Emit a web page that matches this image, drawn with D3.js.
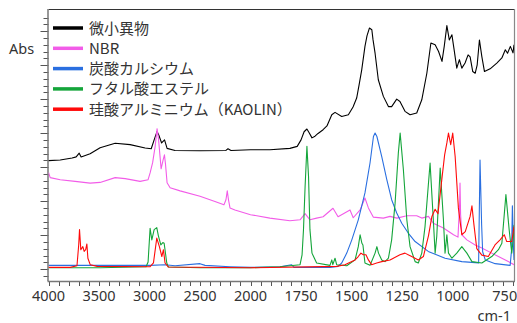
<!DOCTYPE html>
<html>
<head>
<meta charset="utf-8">
<script src="https://cdn.jsdelivr.net/npm/d3@7"></script>
<style>
  body { margin: 0; background: #fff; }
  text { font-family: "Noto Sans CJK JP", "Noto Sans", sans-serif; }
  text.latin { font-family: "Noto Sans", sans-serif; }
</style>
</head>
<body>
<svg id="chart" width="517" height="323"></svg>
<script>
// series names (legend order)
const seriesNames = ['微小異物', 'NBR', '炭酸カルシウム', 'フタル酸エステル', '珪酸アルミニウム（KAOLIN）'];
const seriesColors = ['#000000', '#f25ce8', '#2a6fe0', '#14a53a', '#ff0a0a'];

// x tick labels (cm-1)
const xTickLabels = [4000, 3500, 3000, 2500, 2000, 1750, 1500, 1250, 1000, 750];

// 微小異物
const blackWn = [4000, 3884, 3766, 3726, 3696, 3677, 3588, 3489, 3340, 3192, 3043, 2983, 2954, 2925, 2905, 2880, 2851, 2826, 2747, 2500, 2243, 2223, 2193, 2000, 1904, 1805, 1769, 1750, 1735, 1721, 1710, 1696, 1681, 1666, 1641, 1622, 1598, 1582, 1549, 1516, 1493, 1475, 1463, 1450, 1434, 1424, 1412, 1400, 1394, 1384, 1368, 1343, 1318, 1302, 1277, 1261, 1236, 1211, 1178, 1153, 1128, 1108, 1087, 1070, 1053, 1042, 1029, 1017, 1004, 993, 980, 967, 955, 939, 924, 914, 901, 889, 879, 868, 856, 843, 815, 782, 757, 740, 729, 715, 702, 697];
const blackAbs = [3.19, 3.21, 3.27, 3.30, 3.41, 3.30, 3.39, 3.57, 3.70, 3.66, 3.56, 3.54, 3.80, 4.05, 3.92, 3.71, 3.80, 3.55, 3.49, 3.48, 3.49, 3.54, 3.49, 3.51, 3.51, 3.55, 3.61, 3.80, 4.04, 4.12, 4.01, 3.86, 3.91, 3.99, 4.10, 4.21, 4.54, 4.61, 4.49, 4.54, 4.77, 5.03, 5.42, 5.86, 6.55, 6.86, 7.09, 7.04, 6.74, 6.35, 5.57, 5.08, 4.78, 4.78, 5.00, 4.93, 4.64, 4.54, 4.59, 4.98, 5.76, 6.65, 6.60, 6.40, 6.11, 6.55, 7.16, 6.74, 6.89, 6.45, 5.91, 6.16, 5.91, 6.06, 6.30, 6.24, 5.81, 5.76, 6.01, 6.74, 6.25, 5.81, 5.89, 6.06, 6.21, 6.45, 6.35, 6.55, 6.36, 6.60];

// NBR
const pinkWn = [4000, 3983, 3884, 3736, 3588, 3489, 3340, 3241, 3093, 3014, 2994, 2969, 2944, 2925, 2910, 2885, 2865, 2852, 2841, 2826, 2796, 2697, 2500, 2352, 2263, 2243, 2230, 2218, 2203, 2154, 2000, 1904, 1805, 1755, 1730, 1706, 1673, 1641, 1592, 1567, 1508, 1492, 1458, 1434, 1417, 1393, 1343, 1310, 1276, 1227, 1178, 1153, 1120, 1096, 1046, 996, 974, 966, 964, 961, 955, 930, 889, 856, 807, 740, 697];
const pinkAbs = [2.84, 2.69, 2.63, 2.58, 2.53, 2.55, 2.69, 2.66, 2.58, 2.63, 2.83, 3.13, 3.61, 4.13, 3.80, 2.95, 3.21, 3.36, 3.07, 2.54, 2.39, 2.30, 2.14, 1.99, 1.89, 2.04, 2.30, 2.04, 1.80, 1.74, 1.60, 1.50, 1.42, 1.45, 1.63, 1.45, 1.50, 1.54, 1.79, 1.54, 1.74, 1.51, 1.74, 2.09, 1.80, 1.53, 1.50, 1.55, 1.50, 1.57, 1.57, 1.50, 1.55, 1.35, 1.21, 1.01, 0.94, 1.90, 2.53, 1.60, 1.01, 0.86, 0.71, 0.62, 0.47, 0.27, 0.13];

// 炭酸カルシウム
const blueWn = [4000, 3489, 2994, 2846, 2747, 2500, 2450, 2203, 2000, 1854, 1797, 1785, 1607, 1567, 1549, 1524, 1499, 1467, 1434, 1409, 1392, 1384, 1375, 1351, 1326, 1302, 1277, 1252, 1220, 1186, 1121, 1038, 955, 889, 872, 865, 857, 852, 839, 790, 716, 709, 705, 700, 697];
const blueAbs = [0.11, 0.11, 0.11, 0.13, 0.10, 0.16, 0.11, 0.07, 0.05, 0.07, 0.13, 0.05, 0.05, 0.08, 0.18, 0.47, 0.86, 1.45, 2.24, 3.12, 3.90, 4.00, 3.90, 3.31, 2.63, 2.04, 1.65, 1.35, 1.06, 0.81, 0.52, 0.32, 0.22, 0.19, 0.18, 3.21, 1.30, 0.51, 0.27, 0.16, 0.11, 0.57, 1.86, 0.71, 0.27];

// フタル酸エステル
const greenWn = [4000, 3489, 3034, 3014, 2994, 2977, 2954, 2928, 2912, 2888, 2868, 2855, 2829, 2813, 2500, 2000, 1854, 1755, 1745, 1738, 1730, 1721, 1713, 1706, 1696, 1673, 1607, 1598, 1593, 1582, 1574, 1524, 1483, 1467, 1458, 1449, 1444, 1434, 1409, 1384, 1375, 1367, 1351, 1335, 1318, 1302, 1285, 1269, 1260, 1244, 1227, 1211, 1186, 1170, 1153, 1137, 1112, 1096, 1087, 1079, 1062, 1046, 1038, 1029, 1021, 1004, 980, 955, 930, 905, 856, 807, 774, 757, 737, 721, 708, 700, 697];
const greenAbs = [0.04, 0.04, 0.07, 0.21, 1.20, 0.86, 1.16, 1.22, 0.98, 0.71, 0.78, 0.76, 0.18, 0.06, 0.04, 0.04, 0.07, 0.13, 0.42, 1.16, 2.43, 3.61, 2.72, 1.16, 0.47, 0.18, 0.11, 0.27, 0.13, 0.32, 0.13, 0.10, 0.27, 0.66, 1.01, 0.76, 0.71, 0.18, 0.11, 0.47, 0.66, 0.47, 0.27, 0.22, 0.32, 0.86, 1.94, 3.41, 4.00, 2.92, 1.45, 0.66, 0.22, 0.18, 0.47, 1.25, 3.12, 1.45, 0.47, 0.96, 2.97, 1.45, 0.47, 1.01, 0.47, 0.32, 0.47, 0.66, 0.47, 0.22, 0.18, 0.37, 0.57, 0.76, 2.19, 1.16, 0.47, 0.96, 1.30];

// 珪酸アルミニウム（KAOLIN）
const redWn = [4000, 3785, 3718, 3701, 3693, 3680, 3660, 3647, 3632, 3620, 3610, 3587, 3518, 2994, 2961, 2928, 2902, 2878, 2862, 2846, 2813, 2000, 1574, 1533, 1483, 1467, 1454, 1442, 1429, 1417, 1401, 1376, 1351, 1310, 1261, 1236, 1203, 1170, 1145, 1120, 1103, 1087, 1073, 1054, 1040, 1029, 1021, 1010, 1000, 988, 972, 955, 938, 914, 905, 895, 881, 856, 824, 791, 766, 745, 733, 708, 697];
const redAbs = [0.05, 0.05, 0.10, 0.71, 1.16, 0.57, 0.66, 0.52, 0.57, 0.74, 0.32, 0.13, 0.08, 0.07, 0.18, 0.91, 0.66, 0.37, 0.57, 0.18, 0.06, 0.04, 0.08, 0.13, 0.27, 0.37, 0.47, 0.42, 0.42, 0.27, 0.13, 0.18, 0.22, 0.27, 0.42, 0.47, 0.37, 0.27, 0.37, 0.98, 1.55, 1.76, 1.63, 2.63, 3.36, 3.71, 4.00, 3.66, 4.00, 3.31, 1.80, 1.01, 1.10, 1.55, 1.86, 1.30, 0.60, 0.41, 0.37, 0.71, 0.86, 1.01, 0.81, 0.81, 1.25];

const seriesData = [
  [blackWn, blackAbs],
  [pinkWn, pinkAbs],
  [blueWn, blueAbs],
  [greenWn, greenAbs],
  [redWn, redAbs]
].map(([wn, ab]) => wn.map((w, i) => ({ wn: w, abs: ab[i] })));

const svg = d3.select('#chart');
const plotLeft = 48.5, plotRight = 514, plotTop = 9, plotBottom = 281;

// split wavenumber axis: half scale above 2000 cm-1
const x = d3.scaleLinear().domain([4000, 2000, 697]).range([plotLeft, 250.5, plotRight]);
const y = d3.scaleLinear().domain([-0.35, 7.65]).range([plotBottom, plotTop]);

svg.append('defs').append('clipPath').attr('id', 'plotclip')
  .append('rect').attr('x', plotLeft).attr('y', plotTop)
  .attr('width', plotRight - plotLeft).attr('height', plotBottom - plotTop);

// frame: top and right border
svg.append('line').attr('x1', plotLeft).attr('x2', plotRight).attr('y1', plotTop + 0.5).attr('y2', plotTop + 0.5)
  .attr('stroke', '#333').attr('stroke-width', 1.2);
svg.append('line').attr('x1', plotRight + 0.5).attr('x2', plotRight + 0.5).attr('y1', plotTop).attr('y2', plotBottom)
  .attr('stroke', '#888').attr('stroke-width', 1.2);

// y ticks: majors every 1, minors every 0.2, no labels
const yMinor = d3.range(-1, 39).map(i => i * 0.2).filter(v => v >= -0.3 && v <= 7.6);
svg.append('g').selectAll('line').data(yMinor).enter().append('line')
  .attr('x1', d => Math.abs(d - Math.round(d)) < 1e-6 ? plotLeft - 8 : plotLeft - 5)
  .attr('x2', plotLeft)
  .attr('y1', d => Math.round(y(d)) + 0.5)
  .attr('y2', d => Math.round(y(d)) + 0.5)
  .attr('stroke', '#555').attr('stroke-width', 1);

// x ticks: 100 steps above 2000, 50 steps below
const xTicks = d3.range(4000, 2000, -100).concat(d3.range(2000, 699, -50));
svg.append('g').selectAll('line').data(xTicks).enter().append('line')
  .attr('x1', d => Math.round(x(d)) + 0.5).attr('x2', d => Math.round(x(d)) + 0.5)
  .attr('y1', plotBottom).attr('y2', plotBottom + 5)
  .attr('stroke', '#555').attr('stroke-width', 1);

svg.append('g').selectAll('text').data(xTickLabels).enter().append('text')
  .attr('class', 'latin')
  .attr('x', d => d === 750 ? x(d) + 1.5 : x(d))
  .attr('y', 300.5)
  .attr('text-anchor', 'middle')
  .attr('font-size', 14.5)
  .attr('fill', '#333')
  .text(d => d);

// axis lines
svg.append('line').attr('x1', plotLeft - 0.5).attr('x2', plotLeft - 0.5).attr('y1', plotTop).attr('y2', plotBottom)
  .attr('stroke', '#777').attr('stroke-width', 1.5);
svg.append('line').attr('x1', plotLeft - 1).attr('x2', plotRight + 1).attr('y1', plotBottom + 0.5).attr('y2', plotBottom + 0.5)
  .attr('stroke', '#777').attr('stroke-width', 1.5);

svg.append('text').attr('class', 'latin').attr('x', 9).attr('y', 54)
  .attr('font-size', 14.5).attr('fill', '#333').text('Abs');
svg.append('text').attr('class', 'latin').attr('x', 511).attr('y', 320.5).attr('text-anchor', 'end')
  .attr('font-size', 14.5).attr('fill', '#333').text('cm-1');

// spectra
const line = d3.line().x(d => x(d.wn)).y(d => y(d.abs));
svg.append('g').attr('clip-path', 'url(#plotclip)')
  .selectAll('path').data(seriesData).enter().append('path')
  .attr('d', line)
  .attr('fill', 'none')
  .attr('stroke', (d, i) => seriesColors[i])
  .attr('stroke-width', 1.1)
  .attr('stroke-linejoin', 'round');

// legend
const legend = svg.append('g').selectAll('g').data(seriesNames).enter().append('g')
  .attr('transform', (d, i) => 'translate(53,' + (28 + i * 20.3) + ')');
legend.append('line').attr('x1', 0).attr('x2', 30).attr('y1', 0).attr('y2', 0)
  .attr('stroke', (d, i) => seriesColors[i]).attr('stroke-width', 3.5);
legend.append('text').attr('x', 36).attr('y', 5.5)
  .attr('font-size', 15).attr('fill', '#333').text(d => d);
</script>
</body>
</html>
